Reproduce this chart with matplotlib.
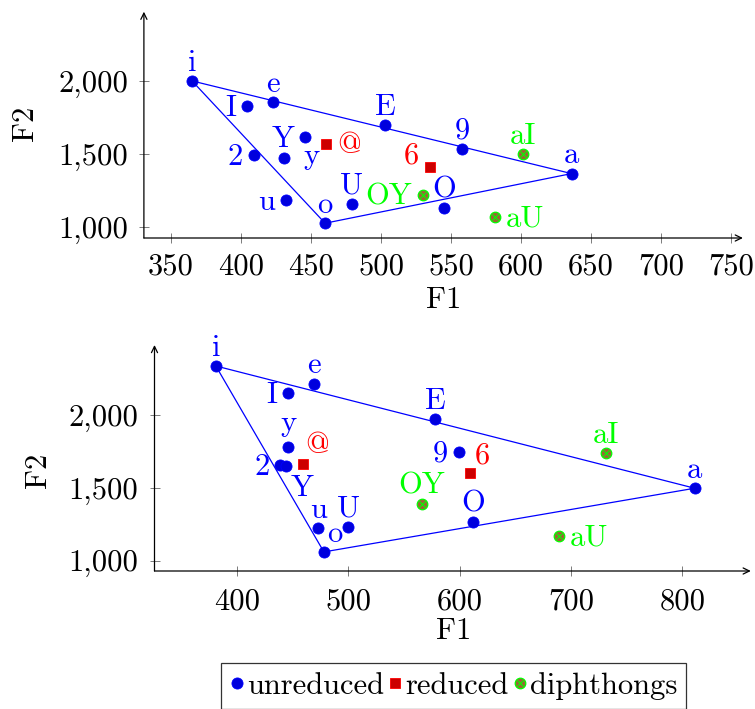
import matplotlib
matplotlib.use("Agg")
import matplotlib.pyplot as plt
from matplotlib.lines import Line2D
from matplotlib.ticker import FuncFormatter, FixedLocator

plt.rcParams['font.family'] = ['cmr10', 'DejaVu Serif']
plt.rcParams['mathtext.fontset'] = 'cm'
plt.rcParams['axes.formatter.use_mathtext'] = True
plt.rcParams['axes.unicode_minus'] = False

# ---------------- data: upper vowel chart ----------------
top_unred_labels = ['i', 'e', 'I', 'E', 'Y', '2', 'y', '9', 'a', 'u', 'U', 'O', 'o']
top_unred_f1 = [365, 423, 404, 503, 446, 409, 431, 558, 636, 432, 479, 545, 460]
top_unred_f2 = [2000, 1855, 1829, 1697, 1615, 1492, 1474, 1538, 1367, 1185, 1162, 1135, 1028]

top_red_labels = ['@', '6']
top_red_f1 = [461, 535]
top_red_f2 = [1570, 1415]

top_diph_labels = ['aI', 'OY', 'aU']
top_diph_f1 = [601, 530, 581]
top_diph_f2 = [1501, 1221, 1073]

top_xticks = [350, 400, 450, 500, 550, 600, 650, 700, 750]

# ---------------- data: lower vowel chart ----------------
bot_unred_labels = ['i', 'e', 'I', 'E', 'y', '2', 'Y', '9', 'a', 'O', 'u', 'U', 'o']
bot_unred_f1 = [381, 469, 446, 578, 446, 439, 444, 599, 811, 612, 473, 500, 478]
bot_unred_f2 = [2336, 2213, 2149, 1970, 1783, 1657, 1652, 1744, 1497, 1268, 1224, 1229, 1060]

bot_red_labels = ['@', '6']
bot_red_f1 = [459, 609]
bot_red_f2 = [1666, 1600]

bot_diph_labels = ['aI', 'OY', 'aU']
bot_diph_f1 = [731, 566, 689]
bot_diph_f2 = [1737, 1389, 1172]

bot_xticks = [400, 500, 600, 700, 800]

yticks = [1000, 1500, 2000]
triangle = ['i', 'a', 'o', 'i']

# ---------------- styling ----------------
BLUE = '#0000ff'
BLUE_FILL = '#0000dd'
RED = '#ff0000'
RED_FILL = '#cc0000'
GREEN = '#00ff00'
BROWN_FILL = '#996633'
FS = 22

ABOVE = (0, 7.5, 'center', 'baseline')
LEFT = (-7.8, 0.8, 'right', 'center_baseline')
RIGHT = (8.0, 0.8, 'left', 'center_baseline')

top_place = {
    'i': ABOVE, 'e': ABOVE, 'I': LEFT, 'E': ABOVE, 'Y': LEFT, '2': LEFT,
    'y': (13.5, 3, 'left', 'center_baseline'), '9': ABOVE, 'a': ABOVE,
    'u': LEFT, 'U': ABOVE, 'O': ABOVE, 'o': ABOVE,
    '@': RIGHT, '6': (-8.3, 2.5, 'right', 'baseline'),
    'aI': ABOVE, 'OY': LEFT, 'aU': RIGHT,
}
bot_place = {
    'i': ABOVE, 'e': ABOVE, 'I': LEFT, 'E': ABOVE,
    'y': (0, 11.5, 'center', 'baseline'), '2': LEFT,
    'Y': (3, -6.5, 'left', 'top'), '9': LEFT, 'a': ABOVE, 'O': ABOVE,
    'u': ABOVE, 'U': ABOVE, 'o': (2.3, 7.4, 'left', 'baseline'),
    '@': (1.7, 7.5, 'left', 'baseline'), '6': (3.7, 7.2, 'left', 'baseline'),
    'aI': ABOVE, 'OY': ABOVE, 'aU': RIGHT,
}


def label_points(ax, labels, xs, ys, color, place):
    for lab, x, y in zip(labels, xs, ys):
        dx, dy, ha, va = place[lab]
        ax.annotate(lab, (x, y), xytext=(dx, dy), textcoords='offset points',
                    ha=ha, va=va, color=color, fontsize=FS, zorder=5,
                    annotation_clip=False)


def draw_chart(ax, unred, red, diph, place, xlim, ylim, xticks, xpad, xlab_pos, ylab_pos):
    ul, ux, uy = unred
    rl, rx, ry = red
    dl, dx, dy = diph

    # vowel triangle through the corner vowels
    tx = [ux[ul.index(v)] for v in triangle]
    ty = [uy[ul.index(v)] for v in triangle]
    ax.plot(tx, ty, color=BLUE, lw=0.9, zorder=2, clip_on=False)

    ax.plot(ux, uy, ls='none', marker='o', ms=8.0, mfc=BLUE_FILL, mec=BLUE,
            mew=0.6, zorder=3, clip_on=False)
    ax.plot(rx, ry, ls='none', marker='s', ms=7.6, mfc=RED_FILL, mec=RED,
            mew=0.6, zorder=3, clip_on=False)
    ax.plot(dx, dy, ls='none', marker='o', ms=7.6, mfc=BROWN_FILL, mec=GREEN,
            mew=0.9, zorder=3, clip_on=False)
    ax.plot(dx, dy, ls='none', marker='x', ms=4.5, mec=GREEN, mew=0.8,
            zorder=4, clip_on=False)

    label_points(ax, ul, ux, uy, BLUE, place)
    label_points(ax, rl, rx, ry, RED, place)
    label_points(ax, dl, dx, dy, GREEN, place)

    ax.set_xlim(*xlim)
    ax.set_ylim(*ylim)
    ax.xaxis.set_major_locator(FixedLocator(xticks))
    ax.yaxis.set_major_locator(FixedLocator(yticks))
    ax.yaxis.set_major_formatter(FuncFormatter(lambda v, p: f"{v:,.0f}"))
    ax.xaxis.set_major_formatter(FuncFormatter(lambda v, p: f"{v:.0f}"))
    ax.tick_params(axis='both', direction='inout', length=7, width=0.6,
                   color='#666666', labelsize=FS, labelcolor='black')
    ax.tick_params(axis='x', pad=xpad)
    ax.tick_params(axis='y', pad=8)
    ax.tick_params(top=False, right=False)

    for s in ax.spines.values():
        s.set_visible(False)
    arrow = dict(arrowstyle='->,head_length=0.45,head_width=0.22', lw=0.9,
                 color='black', shrinkA=0, shrinkB=0)
    ax.annotate('', xy=(1, 0), xytext=(0, 0), xycoords='axes fraction',
                arrowprops=arrow, annotation_clip=False)
    ax.annotate('', xy=(0, 1), xytext=(0, 0), xycoords='axes fraction',
                arrowprops=arrow, annotation_clip=False)

    ax.set_xlabel('F1', fontsize=FS, va='center', ha='center')
    ax.set_ylabel('F2', fontsize=FS, va='center', ha='center')
    ax.xaxis.set_label_coords(*xlab_pos)
    ax.yaxis.set_label_coords(*ylab_pos)
    ax.patch.set_alpha(0)


fig = plt.figure(figsize=(7.55, 7.09), dpi=100)
W, H = 755, 709

ax1 = fig.add_axes([143.9 / W, 1 - 238 / H, 599 / W, 226.3 / H])
draw_chart(ax1,
           (top_unred_labels, top_unred_f1, top_unred_f2),
           (top_red_labels, top_red_f1, top_red_f2),
           (top_diph_labels, top_diph_f1, top_diph_f2),
           top_place, (330.6, 758.4), (927, 2473), top_xticks, 7.5,
           (0.5, -0.274), (-0.1985, 0.508))

ax2 = fig.add_axes([154.5 / W, 1 - 571 / H, 596.3 / W, 226 / H])
draw_chart(ax2,
           (bot_unred_labels, bot_unred_f1, bot_unred_f2),
           (bot_red_labels, bot_red_f1, bot_red_f2),
           (bot_diph_labels, bot_diph_f1, bot_diph_f2),
           bot_place, (325.9, 861.4), (929, 2480), bot_xticks, 9,
           (0.501, -0.2686), (-0.195, 0.447))

# shared legend
h_unred = Line2D([], [], ls='none', marker='o', ms=8.0, mfc=BLUE_FILL, mec=BLUE, mew=0.6)
h_red = Line2D([], [], ls='none', marker='s', ms=7.6, mfc=RED_FILL, mec=RED, mew=0.6)
h_diph_o = Line2D([], [], ls='none', marker='o', ms=7.6, mfc=BROWN_FILL, mec=GREEN, mew=0.9)
h_diph_x = Line2D([], [], ls='none', marker='x', ms=4.5, mec=GREEN, mew=0.8)
leg = fig.legend([h_unred, h_red, (h_diph_o, h_diph_x)],
                 ['unreduced', 'reduced', 'diphthongs'],
                 loc='upper center', bbox_to_anchor=(453.5 / W, 1 - 662.7 / H),
                 ncol=3, fontsize=FS, frameon=True, fancybox=False,
                 edgecolor='black', handlelength=0.45, handletextpad=0.1,
                 columnspacing=0.15, borderpad=0.3, borderaxespad=0)
leg.get_frame().set_linewidth(0.9)

fig.savefig('out.png', dpi=100)
